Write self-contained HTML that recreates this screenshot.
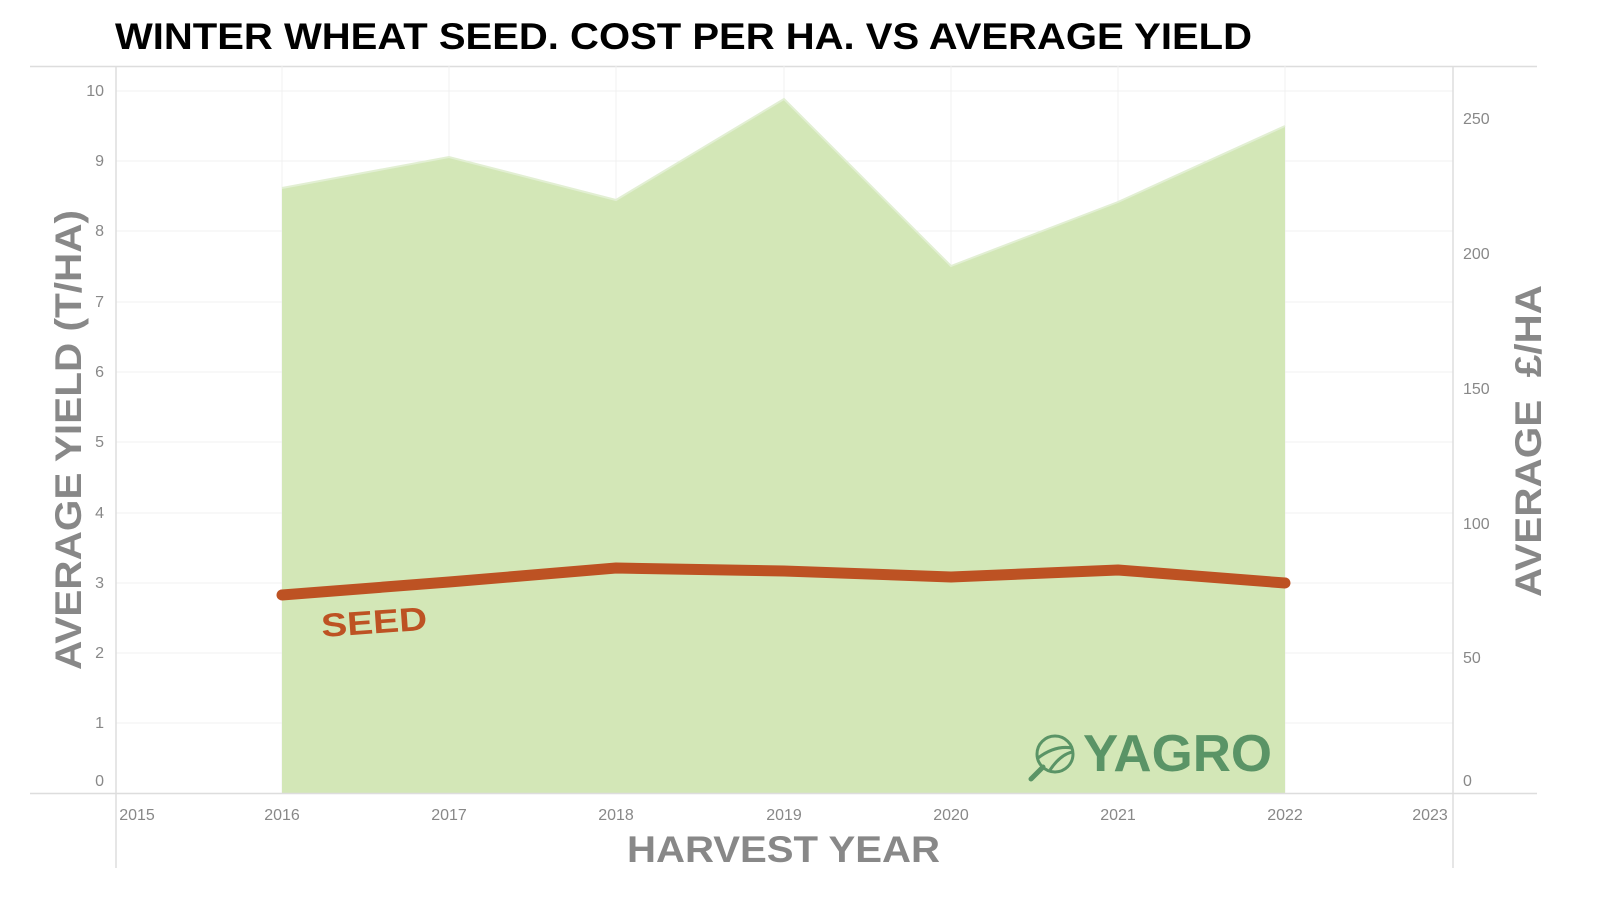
<!DOCTYPE html>
<html><head><meta charset="utf-8"><style>
body{margin:0;background:#fff;width:1600px;height:900px;overflow:hidden;font-family:"Liberation Sans",sans-serif}
</style></head><body>
<svg width="1600" height="900" viewBox="0 0 1600 900" xmlns="http://www.w3.org/2000/svg" font-family="Liberation Sans, sans-serif">
<text x="115" y="49" font-size="37" font-weight="bold" fill="#000" textLength="1137" lengthAdjust="spacingAndGlyphs">WINTER WHEAT SEED. COST PER HA. VS AVERAGE YIELD</text>
<line x1="30" y1="66.5" x2="1537" y2="66.5" stroke="#ddd" stroke-width="1.5"/>
<g stroke="#f0f0f0" stroke-width="1">
<line x1="116" y1="91" x2="1453" y2="91"/><line x1="116" y1="161" x2="1453" y2="161"/><line x1="116" y1="231" x2="1453" y2="231"/><line x1="116" y1="302" x2="1453" y2="302"/><line x1="116" y1="372" x2="1453" y2="372"/><line x1="116" y1="442" x2="1453" y2="442"/><line x1="116" y1="513" x2="1453" y2="513"/><line x1="116" y1="583" x2="1453" y2="583"/><line x1="116" y1="653" x2="1453" y2="653"/><line x1="116" y1="723" x2="1453" y2="723"/>
<line x1="282" y1="66" x2="282" y2="793"/><line x1="449" y1="66" x2="449" y2="793"/><line x1="616" y1="66" x2="616" y2="793"/><line x1="784" y1="66" x2="784" y2="793"/><line x1="951" y1="66" x2="951" y2="793"/><line x1="1118" y1="66" x2="1118" y2="793"/><line x1="1285" y1="66" x2="1285" y2="793"/>
</g>
<polygon points="282,793 282,188 449,157 616,200 784,99 951,266 1118,202 1285,126 1285,793" fill="#d3e7b7"/>
<polyline points="282,188 449,157 616,200 784,99 951,266 1118,202 1285,126" fill="none" stroke="#e2efd3" stroke-width="2"/>
<line x1="116" y1="66" x2="116" y2="868" stroke="#ddd" stroke-width="1.5"/>
<line x1="1453" y1="66" x2="1453" y2="868" stroke="#ddd" stroke-width="1.5"/>
<line x1="30" y1="793.5" x2="1537" y2="793.5" stroke="#ddd" stroke-width="1.5"/>
<polyline points="282,595 449,582 616,568 784,571 951,577 1118,570 1285,583" fill="none" stroke="#bd5223" stroke-width="11" stroke-linecap="round" stroke-linejoin="round"/>
<text x="322" y="637" font-size="33" font-weight="bold" fill="#bd5223" transform="rotate(-4 322 637)" textLength="106" lengthAdjust="spacingAndGlyphs">SEED</text>
<g font-size="16" fill="#888" text-anchor="end">
<text x="104" y="96">10</text><text x="104" y="166">9</text><text x="104" y="236">8</text><text x="104" y="307">7</text><text x="104" y="377">6</text><text x="104" y="447">5</text><text x="104" y="518">4</text><text x="104" y="588">3</text><text x="104" y="658">2</text><text x="104" y="728">1</text><text x="104" y="786">0</text>
</g>
<g font-size="16" fill="#888" text-anchor="start">
<text x="1463" y="124">250</text><text x="1463" y="259">200</text><text x="1463" y="394">150</text><text x="1463" y="529">100</text><text x="1463" y="663">50</text><text x="1463" y="786">0</text>
</g>
<g font-size="16" fill="#888" text-anchor="middle">
<text x="137" y="820">2015</text><text x="282" y="820">2016</text><text x="449" y="820">2017</text><text x="616" y="820">2018</text><text x="784" y="820">2019</text><text x="951" y="820">2020</text><text x="1118" y="820">2021</text><text x="1285" y="820">2022</text><text x="1430" y="820">2023</text>
</g>
<text x="627" y="862" font-size="37" font-weight="bold" fill="#888" textLength="313" lengthAdjust="spacingAndGlyphs">HARVEST YEAR</text>
<text transform="translate(81 670) rotate(-90)" font-size="37" font-weight="bold" fill="#888" textLength="460" lengthAdjust="spacingAndGlyphs">AVERAGE YIELD (T/HA)</text>
<text transform="translate(1541 597) rotate(-90)" font-size="37" font-weight="bold" fill="#888" textLength="312" lengthAdjust="spacingAndGlyphs" xml:space="preserve">AVERAGE  £/HA</text>
<g stroke="#5a9466" fill="none" stroke-width="3">
<circle cx="1055" cy="754" r="18"/>
<line x1="1043" y1="767" x2="1031" y2="779" stroke-width="5" stroke-linecap="round"/>
<path d="M1038 758 Q1055 745 1072 748"/><path d="M1050 770 Q1060 755 1072 752"/>
</g>
<text x="1083" y="771" font-size="52" font-weight="bold" fill="#5a9466" textLength="189" lengthAdjust="spacingAndGlyphs">YAGRO</text>
</svg>
</body></html>
